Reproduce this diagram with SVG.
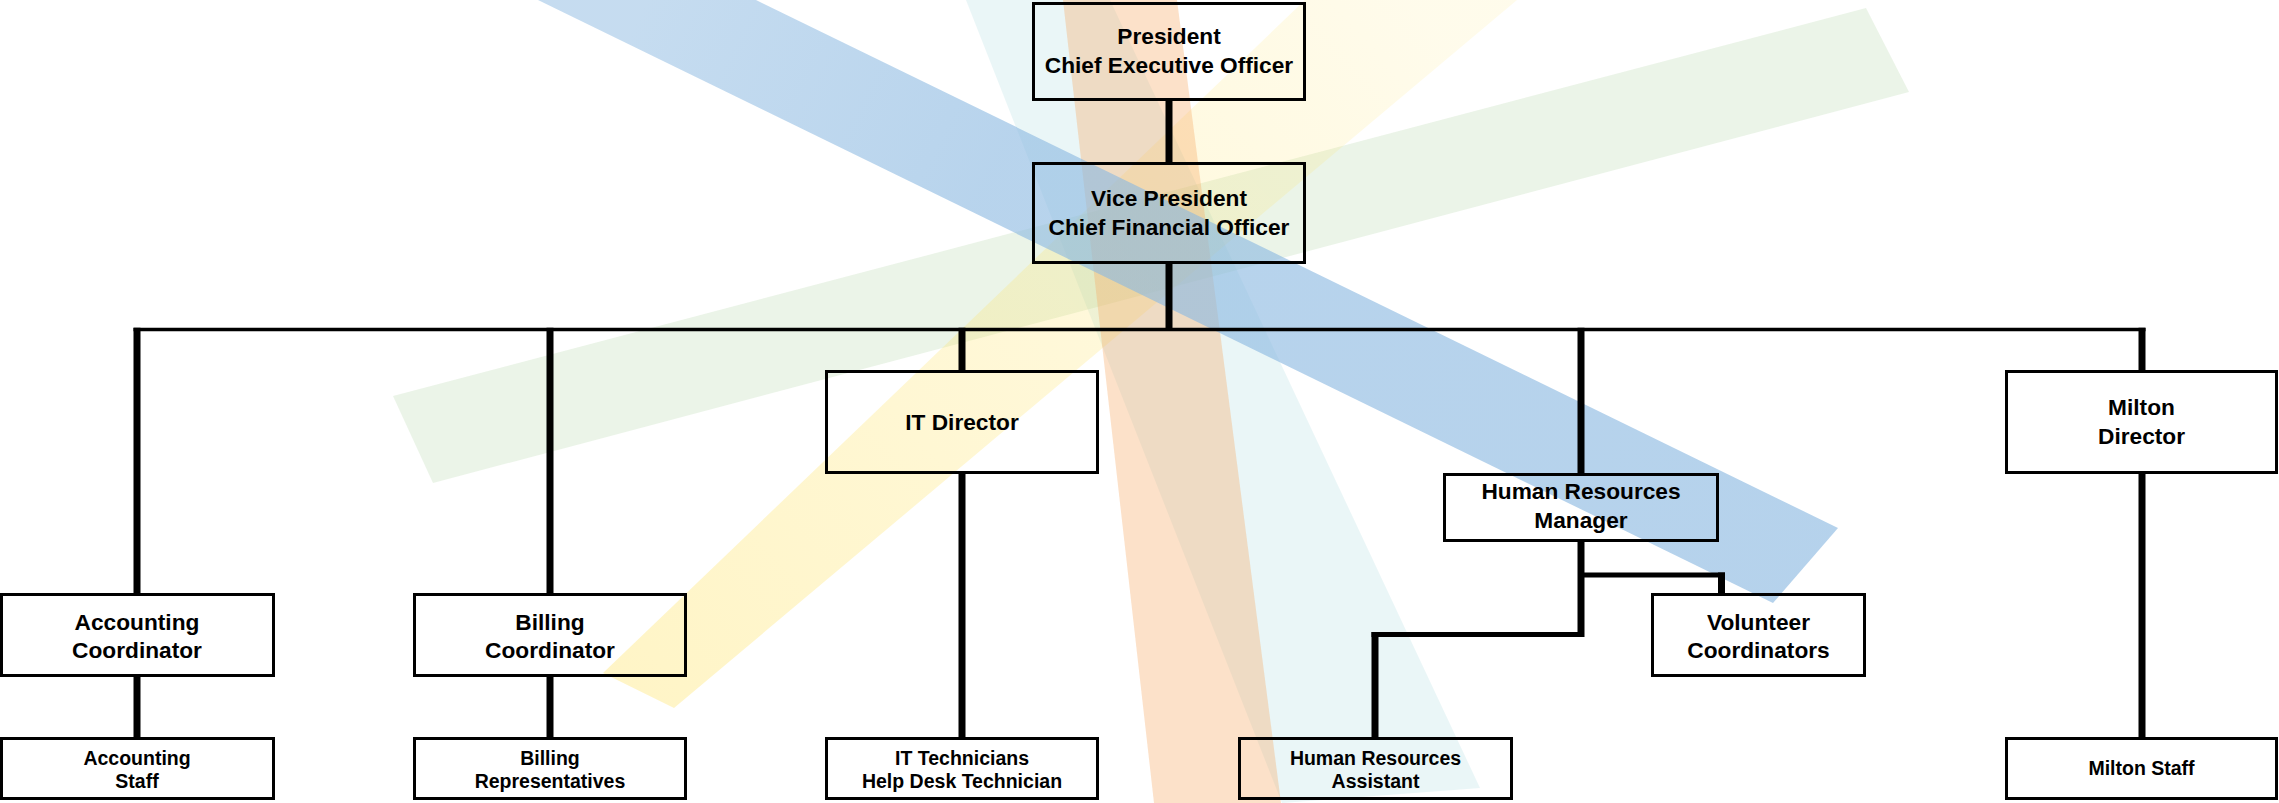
<svg xmlns="http://www.w3.org/2000/svg" width="2279" height="803" viewBox="0 0 2279 803">
  <defs>
    <style>
      .box { fill: none; stroke: #000; stroke-width: 3; }
      .t { font-family: "Liberation Sans", Arial, sans-serif; font-weight: bold; fill: #000; text-anchor: middle; }
      .big { font-size: 22.7px; }
      .small { font-size: 19.5px; }
      .v { stroke: #000; stroke-width: 7; fill: none; }
      .h { stroke: #000; stroke-width: 5; fill: none; }
      .bus { stroke: #000; stroke-width: 3.5; fill: none; }
    </style>
    <linearGradient id="yellowGrad" gradientUnits="userSpaceOnUse" x1="640" y1="690" x2="1410" y2="0">
      <stop offset="0" stop-color="#ffe15a" stop-opacity="0.34"/>
      <stop offset="0.5" stop-color="#ffe15a" stop-opacity="0.24"/>
      <stop offset="1" stop-color="#ffe15a" stop-opacity="0.12"/>
    </linearGradient>
    <linearGradient id="blueGrad" gradientUnits="userSpaceOnUse" x1="647" y1="0" x2="1805" y2="565">
      <stop offset="0" stop-color="#8cb9e1" stop-opacity="0.5"/>
      <stop offset="0.3" stop-color="#8cb9e1" stop-opacity="0.62"/>
      <stop offset="1" stop-color="#8cb9e1" stop-opacity="0.64"/>
    </linearGradient>
  </defs>
  <rect x="0" y="0" width="2279" height="803" fill="#ffffff"/>

  <g id="background">
    <polygon points="966,0 1110,0 1480,788 1282,803" fill="#aadce1" fill-opacity="0.25"/>
    <polygon points="393,396 1866,8 1909,92 433,483" fill="#aad2a0" fill-opacity="0.24"/>
    <polygon points="603,673 1305,0 1517,0 674,708" fill="url(#yellowGrad)"/>
    <polygon points="1063,0 1177,0 1281,803 1154,803" fill="#f5aa64" fill-opacity="0.35"/>
    <polygon points="538,0 756,0 1838,528 1773,603" fill="url(#blueGrad)"/>
  </g>

  <g id="connectors">
    <line class="v" x1="1169" y1="100" x2="1169" y2="163"/>
    <line class="v" x1="1169" y1="263" x2="1169" y2="331"/>
    <line class="bus" x1="133.5" y1="329.5" x2="2145.5" y2="329.5"/>
    <line class="v" x1="137" y1="327.75" x2="137" y2="594"/>
    <line class="v" x1="550" y1="327.75" x2="550" y2="594"/>
    <line class="v" x1="962" y1="327.75" x2="962" y2="371"/>
    <line class="v" x1="1581" y1="327.75" x2="1581" y2="474"/>
    <line class="v" x1="2142" y1="327.75" x2="2142" y2="371"/>
    <line class="v" x1="137" y1="676" x2="137" y2="738"/>
    <line class="v" x1="550" y1="676" x2="550" y2="738"/>
    <line class="v" x1="962" y1="473" x2="962" y2="738"/>
    <line class="v" x1="2142" y1="473" x2="2142" y2="738"/>
    <line class="v" x1="1581" y1="541" x2="1581" y2="637"/>
    <line class="h" x1="1581" y1="575" x2="1725" y2="575"/>
    <line class="v" x1="1721.5" y1="572.5" x2="1721.5" y2="594"/>
    <line class="h" x1="1584" y1="634.5" x2="1371.5" y2="634.5"/>
    <line class="v" x1="1375" y1="632" x2="1375" y2="738"/>
  </g>

  <g id="president">
    <rect class="box" x="1033.5" y="3.5" width="271" height="96"/>
    <text class="t big" x="1169" y="44">President</text>
    <text class="t big" x="1169" y="73">Chief Executive Officer</text>
  </g>
  <g id="vice-president">
    <rect class="box" x="1033.5" y="163.5" width="271" height="99"/>
    <text class="t big" x="1169" y="206">Vice President</text>
    <text class="t big" x="1169" y="235">Chief Financial Officer</text>
  </g>
  <g id="it-director">
    <rect class="box" x="826.5" y="371.5" width="271" height="101"/>
    <text class="t big" x="962" y="430">IT Director</text>
  </g>
  <g id="milton-director">
    <rect class="box" x="2006.5" y="371.5" width="270" height="101"/>
    <text class="t big" x="2141.5" y="415">Milton</text>
    <text class="t big" x="2141.5" y="444">Director</text>
  </g>
  <g id="hr-manager">
    <rect class="box" x="1444.5" y="474.5" width="273" height="66"/>
    <text class="t big" x="1581" y="499">Human Resources</text>
    <text class="t big" x="1581" y="528">Manager</text>
  </g>
  <g id="accounting-coordinator">
    <rect class="box" x="1.5" y="594.5" width="272" height="81"/>
    <text class="t big" x="137" y="630">Accounting</text>
    <text class="t big" x="137" y="658">Coordinator</text>
  </g>
  <g id="billing-coordinator">
    <rect class="box" x="414.5" y="594.5" width="271" height="81"/>
    <text class="t big" x="550" y="630">Billing</text>
    <text class="t big" x="550" y="658">Coordinator</text>
  </g>
  <g id="volunteer-coordinators">
    <rect class="box" x="1652.5" y="594.5" width="212" height="81"/>
    <text class="t big" x="1758.5" y="630">Volunteer</text>
    <text class="t big" x="1758.5" y="658">Coordinators</text>
  </g>
  <g id="accounting-staff">
    <rect class="box" x="1.5" y="738.5" width="272" height="60"/>
    <text class="t small" x="137" y="764.5">Accounting</text>
    <text class="t small" x="137" y="788">Staff</text>
  </g>
  <g id="billing-representatives">
    <rect class="box" x="414.5" y="738.5" width="271" height="60"/>
    <text class="t small" x="550" y="764.5">Billing</text>
    <text class="t small" x="550" y="788">Representatives</text>
  </g>
  <g id="it-technicians">
    <rect class="box" x="826.5" y="738.5" width="271" height="60"/>
    <text class="t small" x="962" y="764.5">IT Technicians</text>
    <text class="t small" x="962" y="788">Help Desk Technician</text>
  </g>
  <g id="hr-assistant">
    <rect class="box" x="1239.5" y="738.5" width="272" height="60"/>
    <text class="t small" x="1375.5" y="764.5">Human Resources</text>
    <text class="t small" x="1375.5" y="788">Assistant</text>
  </g>
  <g id="milton-staff">
    <rect class="box" x="2006.5" y="738.5" width="270" height="60"/>
    <text class="t small" x="2141.5" y="775">Milton Staff</text>
  </g>
</svg>
